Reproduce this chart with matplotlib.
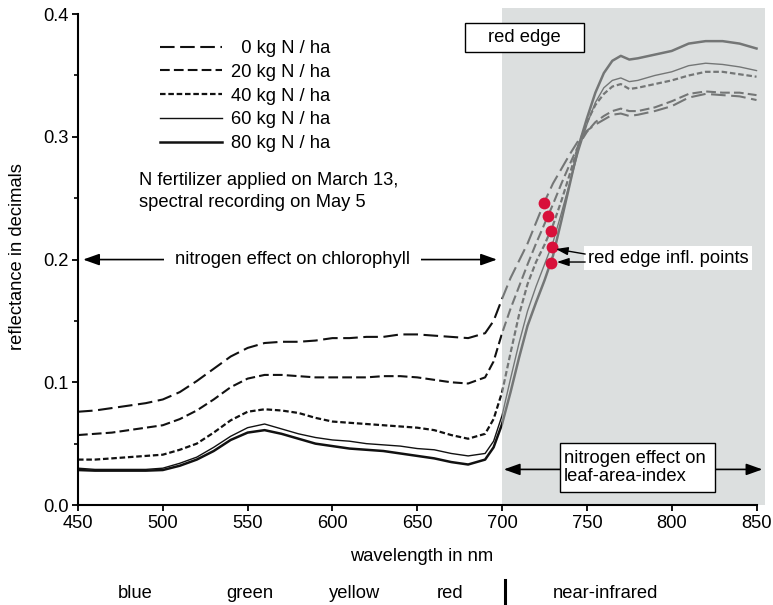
import numpy as np
import matplotlib
matplotlib.use("Agg")
import matplotlib.pyplot as plt
import matplotlib.transforms as mtransforms
from matplotlib.patches import Rectangle
from matplotlib.lines import Line2D

plt.rcParams['font.family'] = ['Liberation Sans', 'DejaVu Sans']
plt.rcParams['lines.scale_dashes'] = False

# wavelength samples (nm)
wl = [450, 460, 470, 480, 490, 500, 510, 520, 530, 540, 550, 560, 570, 580, 590,
      600, 610, 620, 630, 640, 650, 660, 670, 680, 690, 695, 700, 705, 710, 715,
      720, 725, 730, 735, 740, 745, 750, 755, 760, 765, 770, 775, 780, 790, 800,
      810, 820, 830, 840, 850]

# reflectance
n0 = [.076, .077, .079, .081, .083, .086, .092, .101, .111, .121, .128, .132, .133, .133, .134,
      .136, .136, .137, .137, .139, .139, .138, .137, .136, .140, .150, .168, .185, .199, .213,
      .230, .247, .262, .274, .286, .297, .305, .310, .314, .318, .319, .317, .318, .321, .325,
      .332, .335, .334, .333, .330]
n20 = [.057, .058, .059, .061, .063, .065, .070, .077, .086, .096, .103, .106, .106, .105, .104,
       .104, .104, .104, .105, .105, .104, .102, .100, .099, .104, .117, .140, .160, .178, .196,
       .213, .229, .245, .262, .278, .293, .304, .312, .317, .321, .323, .321, .321, .324, .329,
       .335, .337, .336, .336, .334]
n40 = [.037, .037, .038, .039, .040, .041, .045, .050, .059, .069, .076, .078, .077, .075, .071,
       .068, .067, .066, .065, .064, .063, .061, .057, .054, .058, .070, .092, .124, .155, .180,
       .198, .212, .228, .248, .270, .293, .312, .326, .335, .341, .343, .339, .340, .343, .346,
       .350, .353, .353, .351, .349]
n60 = [.030, .029, .029, .029, .029, .030, .034, .039, .047, .056, .063, .066, .062, .058, .055,
       .053, .052, .050, .049, .048, .046, .045, .042, .040, .042, .052, .073, .103, .132, .158,
       .178, .196, .214, .238, .263, .288, .310, .328, .340, .346, .348, .345, .346, .350, .353,
       .358, .360, .359, .357, .354]
n80 = [.0285, .028, .028, .028, .028, .0285, .032, .037, .044, .053, .059, .061, .058, .054, .050,
       .048, .046, .045, .044, .042, .040, .038, .035, .033, .037, .047, .066, .092, .120, .146,
       .165, .183, .203, .232, .262, .292, .315, .336, .352, .362, .366, .363, .364, .367, .370,
       .376, .378, .378, .376, .372]

labels = ["  0 kg N / ha", "20 kg N / ha", "40 kg N / ha", "60 kg N / ha", "80 kg N / ha"]

# red edge inflection points
infl_wl = [724.7, 727.3, 728.6, 729.2, 728.8]
infl_r = [0.246, 0.2355, 0.223, 0.210, 0.197]

band_names = ["blue", "green", "yellow", "red", "near-infrared"]
band_x = [483.6, 551.4, 613.3, 669.3, 760.7]

styles = [
    dict(lw=1.5, dashes=(10.5, 4)),
    dict(lw=1.5, dashes=(7, 3)),
    dict(lw=1.6, dashes=(4, 2)),
    dict(lw=1.0, linestyle='-'),
    dict(lw=1.8, linestyle='-'),
]

fs = 13.2
fig = plt.figure(figsize=(7.73, 6.05), dpi=100)
ax = fig.add_axes([78 / 773, 100 / 605, 687 / 773, 497 / 605])

handles = []
for vals, st, lab in zip([n0, n20, n40, n60, n80], styles, labels):
    h, = ax.plot(wl, vals, color='#111111', label=lab, zorder=2, **st)
    handles.append(h)

# grey overlay on the red edge / NIR region (drawn over the curves)
ax.axvspan(700, 855, color=(0.76, 0.78, 0.78), alpha=0.56, lw=0, zorder=3)

ax.plot(infl_wl, infl_r, 'o', color='#d8103a', ms=8.5, mec='none', zorder=6)

ax.set_xlim(450, 855)
ax.set_ylim(0, 0.405)
ax.set_xticks(np.arange(450, 851, 50))
ax.set_yticks([0, 0.1, 0.2, 0.3, 0.4])
ax.set_yticks(np.arange(0.05, 0.4, 0.1), minor=True)
ax.set_yticklabels(["0.0", "0.1", "0.2", "0.3", "0.4"])
for s in ['top', 'right']:
    ax.spines[s].set_visible(False)
ax.spines['left'].set_bounds(0, 0.4)
ax.spines['bottom'].set_bounds(450, 850)
for s in ['left', 'bottom']:
    ax.spines[s].set_linewidth(1.5)
    ax.spines[s].set_zorder(7)
ax.tick_params(axis='both', which='major', direction='out', length=4, width=1.3,
               labelsize=fs, pad=3)
ax.tick_params(axis='y', which='minor', direction='out', length=3, width=1.2)
ax.set_xlabel("wavelength in nm", fontsize=fs, labelpad=12)
ax.set_ylabel("reflectance in decimals", fontsize=fs, labelpad=12)

leg = ax.legend(handles=handles, loc='upper left', bbox_to_anchor=(160 / 773, 1 - 40 / 605),
                bbox_transform=fig.transFigure, frameon=False, fontsize=fs,
                handlelength=3.36, handletextpad=0.5, labelspacing=0.37,
                borderpad=0, borderaxespad=0)

ax.text(486, 0.271, "N fertilizer applied on March 13,\nspectral recording on May 5",
        fontsize=fs, va='top', ha='left', linespacing=1.32)

# nitrogen effect on chlorophyll
ax.annotate("", xy=(453, 0.2), xytext=(697, 0.2),
            arrowprops=dict(arrowstyle='<|-|>,head_length=0.7,head_width=0.25',
                            color='black', lw=1.2, shrinkA=0, shrinkB=0, mutation_scale=14))
ax.text(576.5, 0.2, "nitrogen effect on chlorophyll", fontsize=fs, ha='center', va='center',
        bbox=dict(boxstyle='square,pad=0.6', fc='white', ec='none'), zorder=5)

# red edge label
ax.add_patch(Rectangle((678, 0.369), 70.5, 0.0237, fc='white', ec='black', lw=1, zorder=8))
ax.text(713.4, 0.381, "red edge", fontsize=fs, ha='center', va='center', zorder=9)

# inflection point label
ax.text(750.5, 0.2012, "red edge infl. points", fontsize=fs, ha='left', va='center', zorder=8,
        bbox=dict(boxstyle='square,pad=0.2', fc='white', ec='none'))
for (x0, y0), (x1, y1) in [((749, 0.2045), (731.7, 0.2086)), ((749, 0.198), (732.3, 0.198))]:
    ax.annotate("", xy=(x1, y1), xytext=(x0, y0), zorder=8,
                arrowprops=dict(arrowstyle='-|>,head_length=0.6,head_width=0.2',
                                color='black', lw=1.0, shrinkA=0, shrinkB=0, mutation_scale=12))

# nitrogen effect on leaf-area-index
ax.annotate("", xy=(701, 0.029), xytext=(853.5, 0.029), zorder=8,
            arrowprops=dict(arrowstyle='<|-|>,head_length=0.7,head_width=0.25',
                            color='black', lw=1.2, shrinkA=0, shrinkB=0, mutation_scale=14))
ax.add_patch(Rectangle((734.4, 0.0106), 91.2, 0.0399, fc='white', ec='black', lw=1, zorder=9))
ax.text(736.5, 0.0305, "nitrogen effect on\nleaf-area-index", fontsize=fs, ha='left',
        va='center', linespacing=1.1, zorder=10)

# spectral band names under the axis
trans = mtransforms.blended_transform_factory(ax.transData, fig.transFigure)
for name, bx in zip(band_names, band_x):
    ax.text(bx, 1 - 593 / 605, name, transform=trans, fontsize=fs, ha='center', va='center')
fig.add_artist(Line2D([702, 702], [1 - 580 / 605, 1 - 603 / 605], transform=trans,
                      color='black', lw=2.2))

fig.savefig("out.png", dpi=100)
